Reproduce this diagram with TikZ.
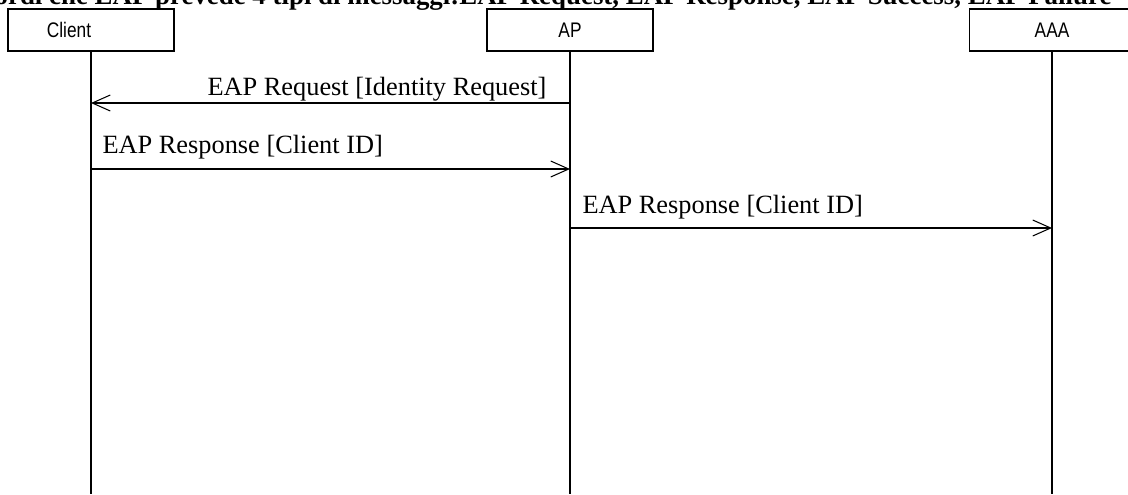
\documentclass[tikz,border=0pt]{standalone}
\usepackage{fontspec}
\setmainfont{Liberation Serif}
\newfontfamily\boxfont[FakeStretch=0.82]{Liberation Sans}
\usepackage{xcolor}
\usepackage{tikz}
\usetikzlibrary{arrows.meta,positioning}

\begin{document}
\begin{tikzpicture}[x=0.02cm, y=-0.02cm, line width=0.6pt,
		actor/.style={draw, rectangle, minimum width=3.32cm, minimum height=0.84cm, inner sep=0pt},
		actortext/.style={font=\boxfont\fontsize{12}{14}\selectfont},
		msg/.style={-{Straight Barb[length=3.6mm, width=3.2mm, line width=0.6pt]}},
		msgtext/.style={inner sep=0pt, font=\fontsize{15}{18}\selectfont}]
		\useasboundingbox (0,0) rectangle (1128,494);

		% title, cut by the page top
		\node[inner sep=0pt, anchor=base east, font=\bfseries\fontsize{15.3}{18}\selectfont] (title) at (1112,4)
			{ordi che EAP prevede 4 tipi di messaggi:EAP Request, EAP Response, EAP Success, EAP Failure};

		% actors
		\node[actor, label={[actortext, xshift=-0.44cm]center:Client}] (client) at (91,30) {};
		\node[actor, actortext] (ap) at (570,30) {AP};
		\node[actor, actortext] (aaa) at (1052,30) {AAA};

		% lifelines
		\coordinate (clientend) at (91,494);
		\coordinate (apend) at (570,494);
		\coordinate (aaaend) at (1052,494);
		\draw (client.south) -- (clientend);
		\draw (ap.south) -- (apend);
		\draw (aaa.south) -- (aaaend);

		% messages
		\coordinate (ap1) at (570,103);
		\coordinate (client1) at (91,103);
		\draw[msg] (ap1) -- (client1);
		\node[msgtext, anchor=base west] (req) at (207,95) {EAP Request [Identity Request]};

		\coordinate (client2) at (91,169);
		\coordinate (ap2) at (570,169);
		\draw[msg] (client2) -- (ap2);
		\node[msgtext, anchor=base west] (resp1) at (102,153) {EAP Response [Client ID]};

		\coordinate (ap3) at (570,228);
		\coordinate (aaa3) at (1052,228);
		\draw[msg] (ap3) -- (aaa3);
		\node[msgtext, anchor=base west] (resp2) at (582,213) {EAP Response [Client ID]};
	\end{tikzpicture}
\end{document}
